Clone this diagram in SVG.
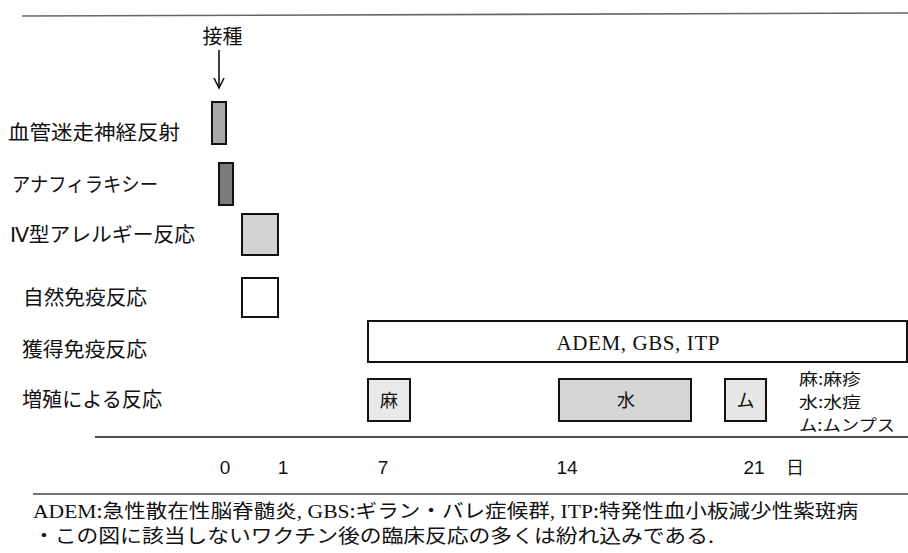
<svg xmlns="http://www.w3.org/2000/svg" width="908" height="553" viewBox="0 0 908 553">
<style>
.jp{font-family:"Noto Sans CJK JP","Noto Sans",sans-serif;fill:#111}
.num{font-family:"Liberation Sans","Noto Sans",sans-serif;fill:#111;font-size:19px}
.ser{font-family:"Liberation Serif",serif}
.box{stroke:#111;stroke-width:2}
.rule{stroke-width:1.6;fill:none}
.leg{font-size:16px}
</style>
<rect width="908" height="553" fill="#fff"/>
<g id="rules">
<line class="rule" x1="22" y1="16" x2="908" y2="13" stroke="#666"/>
<line class="rule" x1="95" y1="437" x2="908" y2="437" stroke="#111" stroke-width="2"/>
<line class="rule" x1="33" y1="494" x2="908" y2="494" stroke="#444"/>
</g>
<g id="vaccination">
<text class="jp" x="222.5" y="43.5" font-size="20" text-anchor="middle">接種</text>
</g>
<g id="connectors" stroke="#111" stroke-width="1.6" fill="none">
<line x1="219" y1="50" x2="219" y2="88"/>
<polyline points="214,78 219,88 224,78"/>
</g>
<g id="row-vasovagal">
<text class="jp" x="8" y="140" font-size="20" textLength="172" lengthAdjust="spacingAndGlyphs">血管迷走神経反射</text>
<rect class="box" x="212" y="102" width="14" height="42" fill="#a9a9a9"/>
</g>
<g id="row-anaphylaxis">
<text class="jp" x="12" y="192" font-size="20" textLength="146" lengthAdjust="spacingAndGlyphs">アナフィラキシー</text>
<rect class="box" x="219" y="163" width="14" height="42" fill="#7b7b7b"/>
</g>
<g id="row-type4">
<text class="jp" x="10" y="242" font-size="20" textLength="185" lengthAdjust="spacingAndGlyphs"><tspan class="ser">Ⅳ</tspan>型アレルギー反応</text>
<rect class="box" x="242" y="214" width="36" height="41" fill="#d2d2d2"/>
</g>
<g id="row-innate">
<text class="jp" x="23" y="305" font-size="20" textLength="124" lengthAdjust="spacingAndGlyphs">自然免疫反応</text>
<rect class="box" x="242" y="278" width="36" height="39" fill="#fff"/>
</g>
<g id="row-acquired">
<text class="jp" x="22" y="357" font-size="20" textLength="125" lengthAdjust="spacingAndGlyphs">獲得免疫反応</text>
<rect class="box" x="368" y="321" width="539" height="41" fill="#fff"/>
<text class="ser" x="638" y="350" font-size="21" fill="#111" text-anchor="middle" textLength="163" lengthAdjust="spacing">ADEM, GBS, ITP</text>
</g>
<g id="row-proliferation">
<text class="jp" x="22" y="407" font-size="20" textLength="140" lengthAdjust="spacingAndGlyphs">増殖による反応</text>
<rect class="box" x="368" y="379" width="42" height="42" fill="#e9e9e9"/>
<text class="jp" x="389" y="407" font-size="18" text-anchor="middle">麻</text>
<rect class="box" x="559" y="379" width="132" height="42" fill="#d6d6d6"/>
<text class="jp" x="626" y="407" font-size="18" text-anchor="middle">水</text>
<rect class="box" x="725" y="379" width="41" height="42" fill="#e7e7e7"/>
<text class="jp" x="745.5" y="407" font-size="18" text-anchor="middle">ム</text>
</g>
<g id="legend">
<text class="jp leg" x="799" y="385" textLength="62" lengthAdjust="spacingAndGlyphs">麻:麻疹</text>
<text class="jp leg" x="799" y="408" textLength="62" lengthAdjust="spacingAndGlyphs">水:水痘</text>
<text class="jp leg" x="799" y="431" textLength="96" lengthAdjust="spacingAndGlyphs">ム:ムンプス</text>
</g>
<g id="axis-labels">
<text class="num" x="225" y="474" text-anchor="middle">0</text>
<text class="num" x="283" y="474" text-anchor="middle">1</text>
<text class="num" x="383" y="474" text-anchor="middle">7</text>
<text class="num" x="567" y="474" text-anchor="middle">14</text>
<text class="num" x="754" y="474" text-anchor="middle">21</text>
<text class="jp" x="795" y="474" font-size="18" text-anchor="middle">日</text>
</g>
<g id="footnote">
<text class="jp" x="33" y="518" font-size="19" textLength="825" lengthAdjust="spacingAndGlyphs"><tspan class="ser">ADEM</tspan>:急性散在性脳脊髄炎<tspan class="ser">, GBS</tspan>:ギラン・バレ症候群<tspan class="ser">, ITP</tspan>:特発性血小板減少性紫斑病</text>
<text class="jp" x="33" y="543" font-size="19" textLength="681" lengthAdjust="spacingAndGlyphs">・この図に該当しないワクチン後の臨床反応の多くは紛れ込みである.</text>
</g>
</svg>
